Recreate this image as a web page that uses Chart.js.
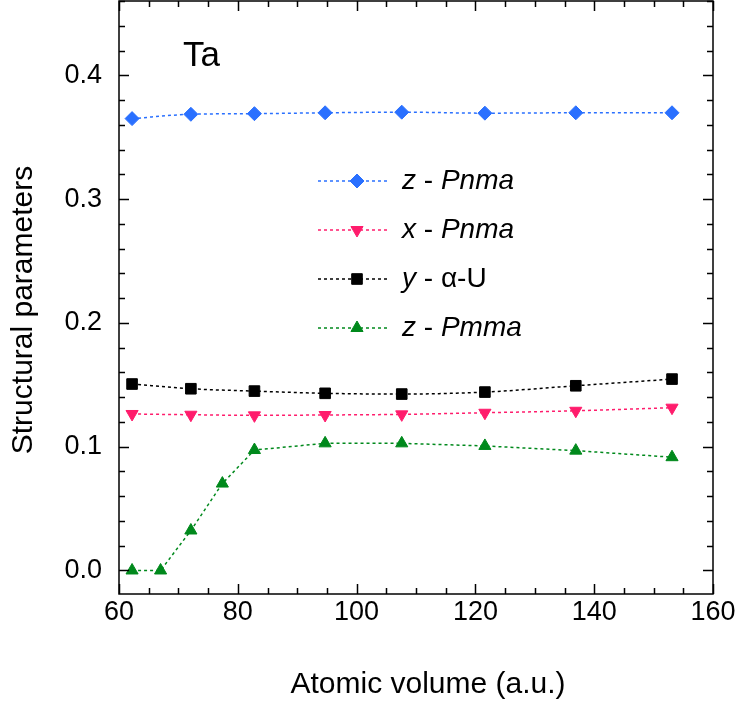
<!DOCTYPE html>
<html>
<head>
<meta charset="utf-8">
<script src="https://cdn.jsdelivr.net/npm/chart.js@4"></script>
<style>
  html, body { margin: 0; padding: 0; background: #fff; }
  .chart-box { width: 740px; height: 702px; }
</style>
</head>
<body>
<div class="chart-box"><canvas id="chart"></canvas></div>
<script>
// values
const volumes = [62.2, 72.1, 82.8, 94.7, 107.6, 121.6, 136.9, 153.1];
const volumes_pmma = [62.2, 67.0, 72.1, 77.4, 82.8, 94.7, 107.6, 121.6, 136.9, 153.1];
const z_pnma = [0.365, 0.3685, 0.369, 0.3697, 0.3702, 0.3694, 0.3697, 0.3697];
const x_pnma = [0.1264, 0.1258, 0.1253, 0.1256, 0.1261, 0.1274, 0.129, 0.1315];
const y_alpha_u = [0.1506, 0.1468, 0.1449, 0.1431, 0.1425, 0.1441, 0.1492, 0.1546];
const z_pmma = [0, 0, 0.0323, 0.0702, 0.0973, 0.1027, 0.1027, 0.1006, 0.0968, 0.0915];
const x_ticks = [60, 80, 100, 120, 140, 160];
const y_ticks = [0, 0.1, 0.2, 0.3, 0.4];

const FONT = "'Liberation Sans', Arial, Helvetica, sans-serif";

const toPoints = (xs, ys) => xs.map((x, i) => ({ x: x, y: ys[i] }));

function series(label, xs, ys, color, style, rotation, smooth) {
  return {
    label: label,
    data: toPoints(xs, ys),
    borderColor: color,
    backgroundColor: color,
    borderWidth: 1.5,
    borderDash: [3, 3],
    pointStyle: style,
    pointRotation: rotation,
    pointRadius: style == "rect" ? 7.5 : 7,
    pointBorderWidth: 1,
    pointBorderColor: color,
    pointBackgroundColor: color,
    cubicInterpolationMode: smooth ? "monotone" : "default",
    tension: 0,
    clip: false,
  };
}

const datasets = [
  series("z - Pnma", volumes, z_pnma, "#2a70ff", "rectRot", 0, true),
  series("x - Pnma", volumes, x_pnma, "#ff1c6c", "triangle", 180, true),
  series("y - α-U", volumes, y_alpha_u, "#000000", "rect", 0, true),
  series("z - Pmma", volumes_pmma, z_pmma, "#00891c", "triangle", 0, false),
];

// legend text pieces: [text, italic]
const legend_parts = [
  [["z", true], [" - ", false], ["Pnma", true]],
  [["x", true], [" - ", false], ["Pnma", true]],
  [["y", true], [" - α-U", false]],
  [["z", true], [" - ", false], ["Pmma", true]],
];

// no label overhang padding, the plot box fills its own area
function noPadding(scale) {
  scale.paddingTop = 0;
  scale.paddingBottom = 0;
  scale.paddingLeft = 0;
  scale.paddingRight = 0;
}

const frame_plugin = {
  id: "frame",
  afterDraw(chart) {
    const { ctx, chartArea: a, scales } = chart;
    const x = scales.x;
    const y = scales.y;
    ctx.save();
    ctx.strokeStyle = "#000";
    ctx.lineWidth = 1.5;
    ctx.strokeRect(a.left, a.top, a.right - a.left, a.bottom - a.top);
    ctx.beginPath();
    for (let v = 60; v <= 160; v += 5) {
      const px = Math.round(x.getPixelForValue(v)) + 0.5;
      const len = v % 20 == 0 ? 10 : 6;
      ctx.moveTo(px, a.bottom);
      ctx.lineTo(px, a.bottom - len);
      ctx.moveTo(px, a.top);
      ctx.lineTo(px, a.top + len);
    }
    for (let k = 0; k <= 23; k++) {
      const py = Math.round(y.getPixelForValue(k * 0.02)) + 0.5;
      const len = k % 5 == 0 ? 10 : 6;
      ctx.moveTo(a.left, py);
      ctx.lineTo(a.left + len, py);
      ctx.moveTo(a.right, py);
      ctx.lineTo(a.right - len, py);
    }
    ctx.stroke();

    // axis titles
    ctx.fillStyle = "#000";
    ctx.font = "30px " + FONT;
    ctx.textAlign = "center";
    ctx.textBaseline = "middle";
    ctx.fillText("Atomic volume (a.u.)", 428, 685);
    ctx.save();
    ctx.translate(24, 310);
    ctx.rotate(-Math.PI / 2);
    ctx.fillText("Structural parameters", 0, 0);
    ctx.restore();

    // element label
    ctx.textAlign = "left";
    ctx.textBaseline = "alphabetic";
    ctx.font = "35px " + FONT;
    ctx.fillText("Ta", 183, 66);

    // legend
    const rows = [181, 230, 279, 328];
    chart.data.datasets.forEach((ds, i) => {
      const ry = rows[i];
      ctx.save();
      ctx.strokeStyle = ds.borderColor;
      ctx.lineWidth = 1.5;
      ctx.setLineDash([3, 3]);
      ctx.beginPath();
      ctx.moveTo(318, ry);
      ctx.lineTo(387, ry);
      ctx.stroke();
      ctx.restore();
      ctx.save();
      ctx.fillStyle = ds.pointBackgroundColor;
      ctx.strokeStyle = ds.pointBorderColor;
      ctx.lineWidth = 1;
      Chart.helpers.drawPoint(ctx, {
        pointStyle: ds.pointStyle,
        radius: ds.pointRadius,
        rotation: ds.pointRotation,
        borderWidth: 1,
      }, 357, ry);
      ctx.restore();
      let tx = 402;
      ctx.textBaseline = "middle";
      legend_parts[i].forEach(([text, italic]) => {
        ctx.font = (italic ? "italic " : "") + "28px " + FONT;
        ctx.fillText(text, tx, ry);
        tx += ctx.measureText(text).width;
      });
    });
    ctx.restore();
  },
};

new Chart(document.getElementById("chart"), {
  type: "line",
  data: { datasets: datasets },
  plugins: [frame_plugin],
  options: {
    responsive: true,
    maintainAspectRatio: false,
    animation: false,
    layout: {
      autoPadding: false,
      padding: { left: 0, right: 27, top: 1, bottom: 0 },
    },
    plugins: { legend: { display: false }, tooltip: { enabled: false } },
    scales: {
      x: {
        type: "linear",
        min: 60,
        max: 160,
        afterBuildTicks: (scale) => {
          scale.ticks = x_ticks.map((v) => ({ value: v }));
        },
        afterFit: (scale) => {
          scale.height = 108;
          noPadding(scale);
        },
        grid: { display: false, drawTicks: false },
        border: { display: false },
        ticks: {
          padding: 2,
          color: "#000",
          font: { family: FONT, size: 27 },
          maxRotation: 0,
          callback: (v) => v,
        },
      },
      y: {
        type: "linear",
        min: -0.019,
        max: 0.46,
        afterBuildTicks: (scale) => {
          scale.ticks = y_ticks.map((v) => ({ value: v }));
        },
        afterFit: (scale) => {
          scale.width = 119;
          noPadding(scale);
        },
        grid: { display: false, drawTicks: false },
        border: { display: false },
        ticks: {
          padding: 17,
          color: "#000",
          font: { family: FONT, size: 27 },
          callback: (v) => v.toFixed(1),
        },
      },
    },
  },
});
</script>
</body>
</html>
